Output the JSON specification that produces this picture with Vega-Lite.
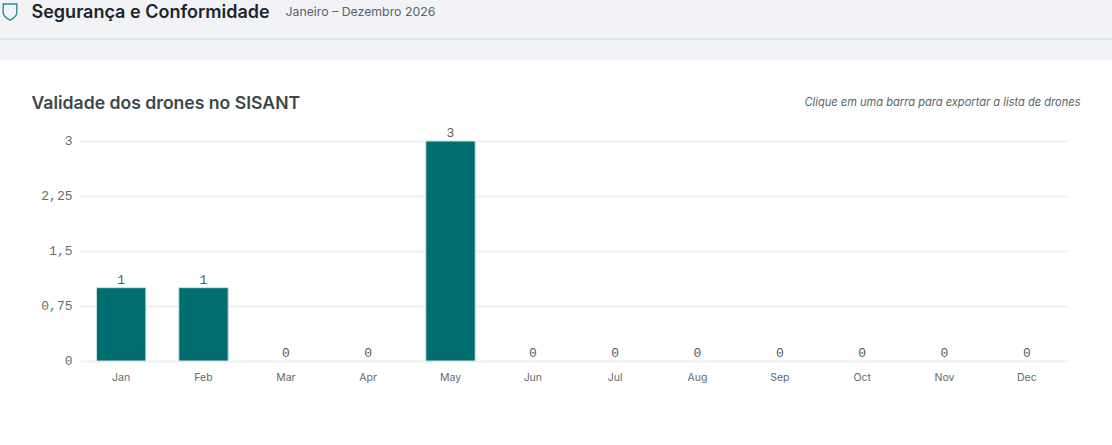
{
  "$schema": "https://vega.github.io/schema/vega-lite/v6.json",
  "description": "Validade dos drones no SISANT por mes",
  "padding": {"left": -1, "top": 0, "right": 0, "bottom": 0},
  "background": "#ffffff",
  "spacing": 34,
  "config": {"font": "Inter"},
  "vconcat": [
    {
      "width": 1112,
      "height": 60,
      "view": {"fill": "#f1f3f7", "stroke": null},
      "data": {"values": [{"item": "header"}]},
      "layer": [
        {
          "mark": {"type": "rule", "color": "#dfe6e8", "strokeWidth": 2},
          "encoding": {
            "y": {
              "datum": 39,
              "type": "quantitative",
              "scale": {"domain": [60, 0]},
              "axis": {
                "title": "Segurança e Conformidade",
                "titleAngle": 0,
                "titleAlign": "left",
                "titleBaseline": "alphabetic",
                "titleX": 31,
                "titleY": 17,
                "titleFont": "Inter",
                "titleFontSize": 18,
                "titleFontWeight": 600,
                "titleColor": "#1d2528",
                "domain": false,
                "ticks": false,
                "labels": false,
                "grid": false
              }
            }
          }
        },
        {
          "mark": {
            "type": "point",
            "shape": "M-0.85,-1L0.85,-1L0.85,0.1C0.85,0.6 0.3,0.85 0,1C-0.3,0.85 -0.85,0.6 -0.85,0.1Z",
            "size": 256,
            "fill": "#f1f3f7",
            "filled": true,
            "stroke": "#2f8a90",
            "strokeWidth": 1.4,
            "opacity": 1
          },
          "encoding": {
            "x": {
              "datum": 10,
              "type": "quantitative",
              "scale": {"domain": [0, 1112]},
              "axis": {
                "title": "Janeiro – Dezembro 2026",
                "titleX": 285,
                "titleY": -45,
                "titleAlign": "left",
                "titleBaseline": "alphabetic",
                "titleFont": "Inter",
                "titleFontSize": 12.3,
                "titleFontWeight": 400,
                "titleColor": "#5a6468",
                "domain": false,
                "ticks": false,
                "labels": false,
                "grid": false
              }
            },
            "y": {"datum": 12, "type": "quantitative"}
          }
        }
      ]
    },
    {
      "spacing": 0,
      "hconcat": [
        {
          "width": 1,
          "height": 1,
          "view": {"stroke": null},
          "data": {"values": []},
          "mark": "rect"
        },
        {
          "width": 988,
          "height": 220,
          "view": {"stroke": null},
          "data": {
            "values": [
              {"mes": "Jan", "drones": 1},
              {"mes": "Feb", "drones": 1},
              {"mes": "Mar", "drones": 0},
              {"mes": "Apr", "drones": 0},
              {"mes": "May", "drones": 3},
              {"mes": "Jun", "drones": 0},
              {"mes": "Jul", "drones": 0},
              {"mes": "Aug", "drones": 0},
              {"mes": "Sep", "drones": 0},
              {"mes": "Oct", "drones": 0},
              {"mes": "Nov", "drones": 0},
              {"mes": "Dec", "drones": 0}
            ]
          },
          "encoding": {
            "x": {
              "field": "mes",
              "type": "nominal",
              "sort": ["Jan", "Feb", "Mar", "Apr", "May", "Jun", "Jul", "Aug", "Sep", "Oct", "Nov", "Dec"],
              "scale": {
                "domain": ["Jan", "Feb", "Mar", "Apr", "May", "Jun", "Jul", "Aug", "Sep", "Oct", "Nov", "Dec"],
                "paddingInner": 0.4,
                "paddingOuter": 0.2
              },
              "axis": {
                "title": "Validade dos drones no SISANT",
                "titleAlign": "left",
                "titleBaseline": "alphabetic",
                "titleX": -49,
                "titleY": -253,
                "titleFont": "Inter",
                "titleFontSize": 17.6,
                "titleFontWeight": 600,
                "titleColor": "#3a4a4a",
                "labelAngle": 0,
                "labelFont": "Inter",
                "labelFontSize": 10.5,
                "labelColor": "#5f6b6e",
                "labelPadding": 11,
                "domain": false,
                "ticks": false,
                "grid": false
              }
            },
            "y": {
              "field": "drones",
              "type": "quantitative",
              "scale": {"domain": [0, 3], "nice": false},
              "axis": {
                "values": [0, 0.75, 1.5, 2.25, 3],
                "labelExpr": "replace(toString(datum.value), '.', ',')",
                "labelFont": "Liberation Mono",
                "labelFontSize": 13,
                "labelColor": "#666c6e",
                "labelPadding": 8,
                "labelOffset": -1,
                "minExtent": 79,
                "domain": false,
                "ticks": false,
                "grid": true,
                "gridColor": "#eef1f1",
                "gridWidth": 2,
                "title": "Clique em uma barra para exportar a lista de drones",
                "titleAngle": 0,
                "titleAlign": "right",
                "titleBaseline": "alphabetic",
                "titleX": 1000,
                "titleY": -36,
                "titleFont": "Inter",
                "titleFontSize": 11.1,
                "titleFontStyle": "italic",
                "titleFontWeight": 400,
                "titleColor": "#5b6566"
              }
            }
          },
          "layer": [
            {
              "transform": [{"filter": "datum.drones > 0"}],
              "mark": {"type": "bar", "color": "#006d70", "stroke": "#cfe3e3", "strokeWidth": 1}
            },
            {
              "mark": {
                "type": "text",
                "baseline": "bottom",
                "dy": -1,
                "font": "Liberation Mono",
                "fontSize": 13,
                "color": "#555b5d"
              },
              "encoding": {"text": {"field": "drones", "type": "quantitative"}}
            }
          ]
        }
      ]
    }
  ]
}
